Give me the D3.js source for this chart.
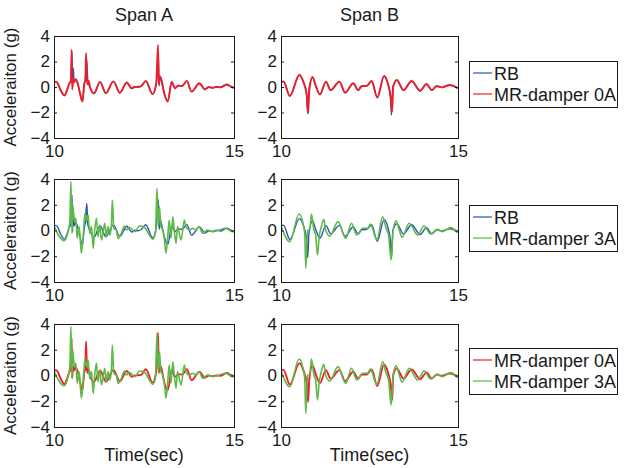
<!DOCTYPE html>
<html>
<head>
<meta charset="utf-8">
<title>RB vs MR-damper acceleration</title>
<script src="https://d3js.org/d3.v7.min.js"></script>
<style>
  body { margin: 0; background: #fff; }
  svg text { font-family: "Liberation Sans", Arial, sans-serif; fill: #1a1a1a; }
</style>
</head>
<body>
<div id="chart"></div>
<script>
// [time (sec), acceleration (g)]
const rbSpanA = [[10.00,0.42],[10.08,0.35],[10.18,-0.25],[10.29,-0.68],[10.37,-0.2],[10.43,0.28],[10.47,0.45],[10.50,2.75],[10.515,-0.1],[10.535,1.5],[10.56,0.35],[10.60,0.6],[10.66,0.25],[10.72,-0.5],[10.79,-1.12],[10.84,0.2],[10.87,0.6],[10.91,2.1],[10.94,0.45],[10.99,0.05],[11.11,-0.52],[11.28,0.38],[11.44,-0.49],[11.65,0.44],[11.83,-0.46],[12.02,0.33],[12.16,-0.12],[12.24,0.02],[12.33,-0.02],[12.42,0.08],[12.55,0.45],[12.74,-0.58],[12.84,0.25],[12.90,2.4],[12.92,0.1],[12.95,0.85],[12.99,0.45],[13.06,-0.45],[13.16,-1.1],[13.27,0.4],[13.36,-0.08],[13.45,0.12],[13.56,0.1],[13.69,0.46],[13.82,-0.36],[14.04,0.28],[14.19,-0.2],[14.30,-0.02],[14.40,-0.08],[14.52,0.02],[14.62,-0.05],[14.80,0.18],[14.90,0.05],[15.00,-0.08]];
const mr0SpanA = [[10.00,0.42],[10.08,0.38],[10.18,-0.22],[10.29,-0.66],[10.37,-0.18],[10.43,0.3],[10.47,0.5],[10.49,2.9],[10.505,-0.2],[10.53,0.7],[10.56,0.4],[10.60,0.62],[10.66,0.28],[10.72,-0.45],[10.79,-1.15],[10.84,0.25],[10.87,0.5],[10.89,2.65],[10.92,0.2],[10.96,0.5],[11.00,0.0],[11.11,-0.5],[11.28,0.4],[11.44,-0.48],[11.65,0.44],[11.83,-0.45],[12.02,0.35],[12.16,-0.1],[12.24,0.0],[12.33,0.02],[12.42,0.05],[12.55,0.48],[12.74,-0.55],[12.84,0.3],[12.89,3.3],[12.91,0.2],[12.94,0.8],[12.98,0.6],[13.06,-0.5],[13.16,-1.15],[13.27,0.42],[13.36,-0.1],[13.45,0.1],[13.56,0.08],[13.69,0.48],[13.82,-0.36],[14.04,0.3],[14.19,-0.18],[14.30,0.0],[14.40,-0.05],[14.52,0.0],[14.62,-0.02],[14.80,0.2],[14.90,0.05],[15.00,-0.07]];
const mr3SpanA = [[10.00,0.35],[10.28,-0.79],[10.40,0.04],[10.44,0.69],[10.47,3.8],[10.50,-0.22],[10.52,2.0],[10.55,1.07],[10.58,0.69],[10.61,0.94],[10.64,-0.6],[10.70,0.3],[10.76,-1.77],[10.81,-0.48],[10.86,1.33],[10.90,0.69],[10.95,1.2],[10.99,-0.22],[11.04,0.3],[11.09,-1.39],[11.13,0.04],[11.18,0.95],[11.22,-0.48],[11.27,0.43],[11.32,-0.74],[11.41,0.56],[11.45,-0.48],[11.50,0.3],[11.55,-0.35],[11.59,0.25],[11.62,2.37],[11.66,0.17],[11.73,0.04],[11.78,-0.61],[11.87,-0.22],[11.96,0.35],[12.01,0.04],[12.10,0.25],[12.24,-0.09],[12.38,0.35],[12.51,0.25],[12.65,-0.35],[12.74,-0.69],[12.82,-0.17],[12.86,3.28],[12.90,0.3],[12.93,1.85],[12.97,0.3],[13.02,0.04],[13.07,-0.74],[13.11,-1.77],[13.16,-0.48],[13.20,0.82],[13.25,-0.61],[13.30,1.07],[13.34,0.04],[13.39,-1.0],[13.43,0.3],[13.53,-0.74],[13.62,0.82],[13.66,0.3],[13.76,0.04],[13.85,0.17],[13.94,0.04],[14.03,0.3],[14.13,-0.22],[14.26,0.04],[14.40,-0.09],[14.59,0.04],[14.77,0.17],[14.95,-0.09],[15.00,-0.1]];

const rbSpanB = [[10.00,0.34],[10.07,0.42],[10.25,-0.70],[10.52,0.92],[10.63,0.40],[10.72,-0.6],[10.755,-2.1],[10.79,-0.2],[10.89,0.74],[10.99,0.0],[11.10,-0.6],[11.27,0.40],[11.40,-0.26],[11.65,0.40],[11.81,-0.46],[12.04,0.27],[12.18,-0.26],[12.28,0.06],[12.42,0.1],[12.56,0.45],[12.72,-0.83],[12.91,0.84],[13.03,0.14],[13.09,-0.8],[13.12,-2.2],[13.16,0.0],[13.27,0.53],[13.46,-0.26],[13.69,0.45],[13.93,-0.31],[14.11,0.22],[14.26,-0.26],[14.40,0.06],[14.54,-0.05],[14.77,0.14],[15.00,-0.12]];
const mr0SpanB = [[10.00,0.34],[10.07,0.44],[10.25,-0.70],[10.52,0.96],[10.63,0.42],[10.73,-0.63],[10.765,-2.05],[10.80,-0.24],[10.89,0.78],[10.99,0.03],[11.10,-0.58],[11.27,0.42],[11.40,-0.24],[11.65,0.42],[11.81,-0.44],[12.04,0.29],[12.18,-0.24],[12.28,0.08],[12.42,0.08],[12.56,0.47],[12.72,-0.81],[12.91,0.86],[13.03,0.16],[13.10,-0.76],[13.14,-1.93],[13.17,0.03],[13.27,0.55],[13.46,-0.24],[13.69,0.47],[13.93,-0.29],[14.11,0.24],[14.26,-0.24],[14.40,0.08],[14.54,-0.03],[14.77,0.16],[15.00,-0.10]];
const mr3SpanB = [[10.00,0.35],[10.25,-0.87],[10.51,1.28],[10.61,0.69],[10.67,-0.22],[10.70,-2.94],[10.75,0.04],[10.81,0.04],[10.86,1.28],[10.93,0.04],[10.98,-0.35],[11.03,-1.9],[11.08,-0.48],[11.14,0.3],[11.21,0.87],[11.26,0.04],[11.38,-0.43],[11.61,0.69],[11.83,-0.61],[11.99,0.56],[12.14,-0.35],[12.31,0.17],[12.45,0.17],[12.52,0.5],[12.71,-0.69],[12.87,1.07],[12.97,0.17],[13.04,-0.35],[13.11,-2.29],[13.17,0.04],[13.25,0.76],[13.34,0.04],[13.42,-0.53],[13.62,0.56],[13.86,-0.35],[14.04,0.35],[14.23,-0.27],[14.42,0.09],[14.56,-0.09],[14.79,0.22],[14.98,-0.17]];

const spanTitles = ["Span A", "Span B"];
const seriesLabels = { rb: "RB", mr0: "MR-damper 0A", mr3: "MR-damper 3A" };
const seriesColors = { rb: "#2a52b0", mr0: "#ec2028", mr3: "#5dba47" };
const seriesWidths = { rb: 1.4, mr0: 1.9, mr3: 1.6 };
const rowPairs = [["rb", "mr0"], ["rb", "mr3"], ["mr0", "mr3"]];
const yTicks = [-4, -2, 0, 2, 4];
const xTicks = [10, 15];

const seriesData = {
  rb: [rbSpanA, rbSpanB],
  mr0: [mr0SpanA, mr0SpanB],
  mr3: [mr3SpanA, mr3SpanB]
};

const W = 627, H = 468;
const colLeft = [54, 281], colRight = [234, 458];
const rowTop = [36, 179, 324], rowBottom = [138, 282, 427];

const svg = d3.select("#chart").append("svg")
  .attr("width", W).attr("height", H);
svg.append("rect").attr("width", W).attr("height", H).attr("fill", "#fff");

const defs = svg.append("defs");
const fmt = d3.format("d");

rowPairs.forEach((pair, r) => {
  spanTitles.forEach((title, c) => {
    const x = d3.scaleLinear().domain([10, 15]).range([colLeft[c], colRight[c]]);
    const y = d3.scaleLinear().domain([-4, 4]).range([rowBottom[r], rowTop[r]]);
    const id = `clip-${r}-${c}`;
    defs.append("clipPath").attr("id", id).append("rect")
      .attr("x", colLeft[c]).attr("y", rowTop[r])
      .attr("width", colRight[c] - colLeft[c]).attr("height", rowBottom[r] - rowTop[r]);

    const g = svg.append("g");
    const line = d3.line().x(d => x(d[0])).y(d => y(d[1])).curve(d3.curveMonotoneX);

    pair.forEach(key => {
      g.append("path")
        .datum(seriesData[key][c])
        .attr("clip-path", `url(#${id})`)
        .attr("fill", "none")
        .attr("stroke", seriesColors[key])
        .attr("stroke-width", seriesWidths[key])
        .attr("stroke-linejoin", "round")
        .attr("d", line);
    });

    // box + inward ticks (matlab style)
    g.append("g").attr("transform", `translate(${colLeft[c]},0)`)
      .call(d3.axisLeft(y).tickValues(yTicks).tickSize(-3).tickPadding(4).tickFormat(fmt))
      .call(a => a.select(".domain").remove())
      .call(a => a.selectAll("text").attr("font-size", 17).attr("fill", "#1a1a1a"));
    g.append("g").attr("transform", `translate(${colRight[c]},0)`)
      .call(d3.axisRight(y).tickValues(yTicks).tickSize(-3).tickFormat(""))
      .call(a => a.select(".domain").remove());
    g.append("g").attr("transform", `translate(0,${rowBottom[r]})`)
      .call(d3.axisBottom(x).tickValues(xTicks).tickSize(-3).tickPadding(7).tickFormat(fmt))
      .call(a => a.select(".domain").remove())
      .call(a => a.selectAll("text").attr("font-size", 17).attr("fill", "#1a1a1a"));
    g.selectAll(".tick line").attr("stroke", "#1a1a1a");

    g.append("rect")
      .attr("x", colLeft[c] + 0.5).attr("y", rowTop[r] + 0.5)
      .attr("width", colRight[c] - colLeft[c]).attr("height", rowBottom[r] - rowTop[r])
      .attr("fill", "none").attr("stroke", "#1a1a1a").attr("stroke-width", 1);

    if (r === 0) {
      svg.append("text").attr("x", (colLeft[c] + colRight[c]) / 2).attr("y", 21)
        .attr("text-anchor", "middle").attr("font-size", 18).text(title);
    }
    if (r === rowPairs.length - 1) {
      svg.append("text").attr("x", (colLeft[c] + colRight[c]) / 2).attr("y", 461)
        .attr("text-anchor", "middle").attr("font-size", 18).text("Time(sec)");
    }
    if (c === 0) {
      const cy = (rowTop[r] + rowBottom[r]) / 2;
      svg.append("text")
        .attr("transform", `translate(16,${cy}) rotate(-90)`)
        .attr("text-anchor", "middle").attr("font-size", 17)
        .text("Acceleraiton (g)");
    }
  });

  // legend
  const legTop = [61, 205, 348][r];
  const lg = svg.append("g").attr("transform", `translate(469,${legTop})`);
  lg.append("rect").attr("x", 0.5).attr("y", 0.5).attr("width", 148).attr("height", 46)
    .attr("fill", "#fff").attr("stroke", "#1a1a1a");
  pair.forEach((key, i) => {
    const ly = 12 + i * 21;
    lg.append("line").attr("x1", 4).attr("x2", 23).attr("y1", ly).attr("y2", ly)
      .attr("stroke", seriesColors[key]).attr("stroke-width", 1.2);
    lg.append("text").attr("x", 25).attr("y", ly + 6.5).attr("font-size", 18)
      .text(seriesLabels[key]);
  });
});
</script>
</body>
</html>
